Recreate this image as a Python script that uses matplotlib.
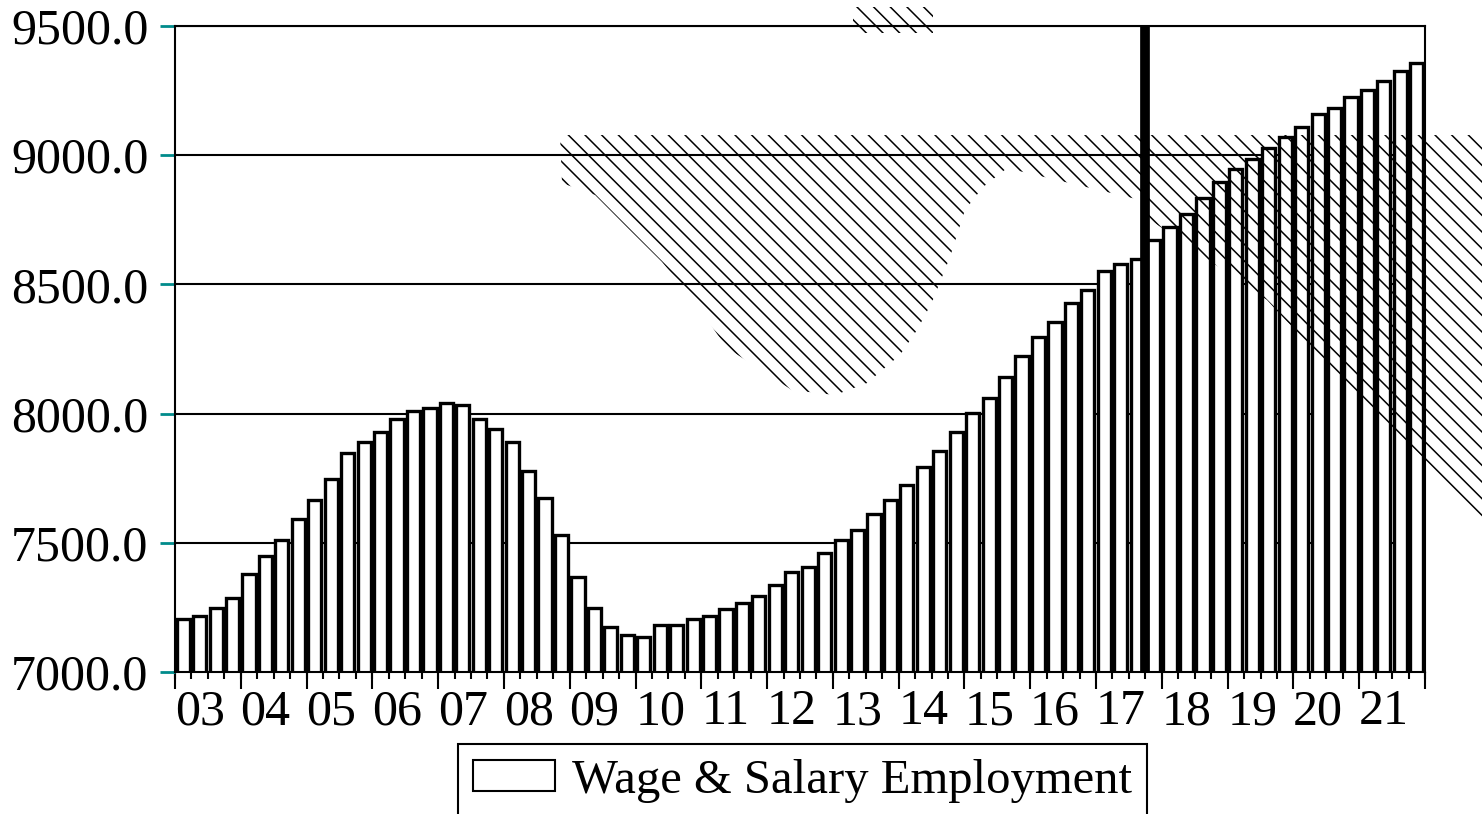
import numpy as np
import matplotlib
matplotlib.use("Agg")
import matplotlib.pyplot as plt
from matplotlib.patches import Polygon, Patch
from matplotlib.ticker import FixedLocator, FixedFormatter, NullFormatter

# quarterly wage & salary employment, 2003 Q1 .. 2021 Q4 (thousands)
YEARS = ["03", "04", "05", "06", "07", "08", "09", "10", "11", "12",
         "13", "14", "15", "16", "17", "18", "19", "20", "21"]
EMPLOYMENT = [
    7204, 7217, 7247, 7285,
    7379, 7450, 7510, 7591,
    7664, 7746, 7848, 7889,
    7929, 7979, 8010, 8020,
    8041, 8032, 7979, 7939,
    7889, 7778, 7673, 7531,
    7368, 7247, 7174, 7143,
    7134, 7183, 7183, 7205,
    7216, 7245, 7266, 7295,
    7337, 7387, 7408, 7460,
    7510, 7551, 7613, 7664,
    7724, 7795, 7857, 7929,
    8001, 8060, 8142, 8224,
    8295, 8356, 8428, 8477,
    8550, 8580, 8600, 8672,
    8722, 8773, 8836, 8897,
    8946, 8986, 9029, 9071,
    9111, 9160, 9183, 9224,
    9253, 9286, 9326, 9357,
]
Y_TICKS = [7000, 7500, 8000, 8500, 9000, 9500]
FORECAST_START = 58.5  # between 2017 Q3 and 2017 Q4

# hatched shading that sits over the chart (quarter index, value)
BAND_X = [22.91, 78.97, 78.97, 75.2, 71.97, 68.69, 65.89, 58.78, 58.17,
          50.09, 48.63, 47.53, 46.62, 45.53, 44.62, 43.58, 41.57, 39.63,
          37.01, 33.06, 31.0, 29.11, 27.04, 25.04, 23.03]
BAND_Y = [9078, 9078, 7588, 7840, 8041, 8246, 8440, 8750, 8827,
          8950, 8877, 8788, 8606, 8432, 8324, 8227, 8118, 8072,
          8091, 8254, 8440, 8587, 8718, 8846, 8892]
TOP_X = [40.72, 45.59, 45.59, 40.72]
TOP_Y = [9574, 9574, 9473, 9473]

plt.rcParams['font.family'] = ['Liberation Serif', 'DejaVu Serif']
plt.rcParams['hatch.linewidth'] = 1.1

fig = plt.figure(figsize=(14.82, 8.14), dpi=100)
ax = fig.add_axes([175 / 1482, 1 - 672 / 814, 1250 / 1482, 646 / 814])

x = np.arange(len(EMPLOYMENT))
ax.bar(x, EMPLOYMENT, width=0.8, color='white', edgecolor='black',
       linewidth=2.4, zorder=2)
ax.axvline(FORECAST_START, color='black', lw=7, zorder=3)

for px, py in [(BAND_X, BAND_Y), (TOP_X, TOP_Y)]:
    ax.add_patch(Polygon(np.column_stack([px, py]), closed=True, fill=False,
                         hatch='\\\\', edgecolor='black', linewidth=0,
                         clip_on=False, zorder=4))

ax.set_xlim(-0.5, len(EMPLOYMENT) - 0.5)
ax.set_ylim(Y_TICKS[0], Y_TICKS[-1])

# y axis
ax.set_yticks(Y_TICKS)
ax.set_yticklabels([f"{v:.1f}" for v in Y_TICKS])
ax.yaxis.grid(True, color='black', lw=1.5)
ax.set_axisbelow(True)
ax.tick_params(axis='y', length=11, width=2, color='#008b8b',
               labelcolor='black', labelsize=36, pad=8)

# x axis: long ticks at year edges, labels at year middles
ax.xaxis.set_major_locator(FixedLocator(np.arange(-0.5, len(EMPLOYMENT), 4)))
ax.xaxis.set_major_formatter(NullFormatter())
ax.xaxis.set_minor_locator(FixedLocator(np.arange(len(YEARS)) * 4 + 1.0))
ax.xaxis.set_minor_formatter(FixedFormatter(YEARS))
ax.tick_params(axis='x', which='major', length=12, width=1.5, color='black')
ax.tick_params(axis='x', which='minor', length=0, labelsize=36, pad=12)

sec = ax.secondary_xaxis('bottom')
sec.set_xticks(np.arange(-0.5, len(EMPLOYMENT), 1))
sec.set_xticklabels([])
sec.tick_params(length=5, width=1.5, color='black')
sec.spines['bottom'].set_visible(False)

for s in ax.spines.values():
    s.set_linewidth(1.5)
    s.set_color('black')

handle = Patch(facecolor='white', edgecolor='black', linewidth=1.5,
               label='Wage & Salary Employment')
leg = ax.legend(handles=[handle], loc='upper left',
                bbox_to_anchor=(458 / 1482, 1 - 744 / 814),
                bbox_transform=fig.transFigure, fontsize=35, frameon=True,
                fancybox=False, edgecolor='black', framealpha=1,
                handlelength=1.7, handleheight=0.6, handletextpad=0.35,
                borderpad=0.3, borderaxespad=0)
leg.get_frame().set_linewidth(1.5)

fig.savefig('out.png', dpi=100)
